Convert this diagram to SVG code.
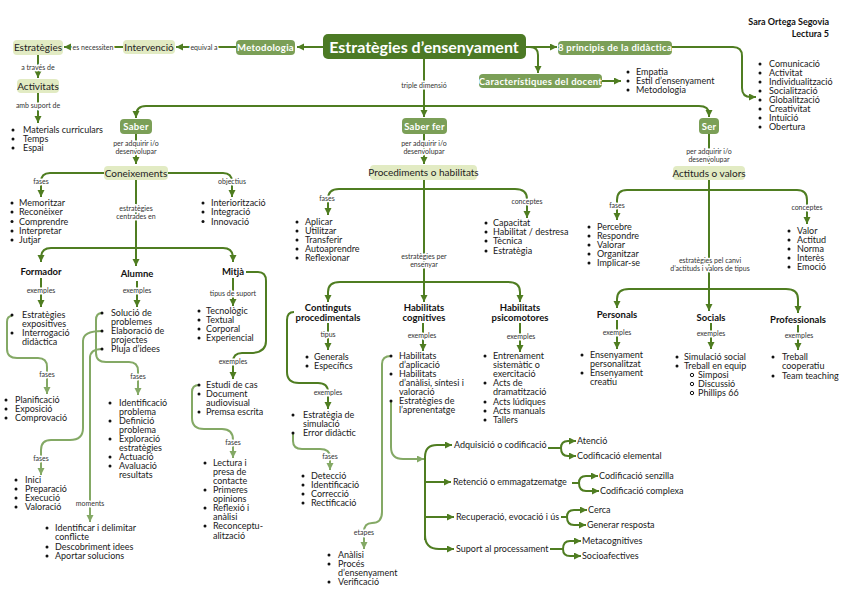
<svg xmlns="http://www.w3.org/2000/svg" width="848" height="600" viewBox="0 0 848 600">
<style>
text{font-family:Lato,"Liberation Sans",sans-serif;}
.l{font-size:9px;fill:#1a1a1a;}
.lb{font-size:7px;fill:#333;text-anchor:middle;stroke:#fff;stroke-width:3px;paint-order:stroke;stroke-linejoin:round;}
.h{font-size:9.5px;font-weight:bold;fill:#111;text-anchor:middle;}
.n{font-size:10px;fill:#222;text-anchor:middle;}
.m{font-size:9.5px;font-weight:bold;fill:#fff;text-anchor:middle;letter-spacing:0.3px;}
.c{fill:none;stroke:#4f7d21;stroke-width:2;}
.c2{fill:none;stroke:#84a965;stroke-width:2;}
.a{marker-end:url(#ad);}
.a2{marker-end:url(#al);}
.rl{fill:#e2ebc3;}
.rm{fill:#7b9f57;}
.b{fill:#111;}
.o{fill:none;stroke:#111;stroke-width:1;}
.t{font-size:9px;font-weight:bold;fill:#111;text-anchor:end;}
</style>
<defs>
<marker id="ad" markerUnits="userSpaceOnUse" markerWidth="8" markerHeight="8" refX="7" refY="3.5" orient="auto"><path d="M0,0 L7,3.5 L0,7 z" fill="#4f7d21"/></marker>
<marker id="al" markerUnits="userSpaceOnUse" markerWidth="8" markerHeight="8" refX="7" refY="3.5" orient="auto"><path d="M0,0 L7,3.5 L0,7 z" fill="#84a965"/></marker>
</defs>
<rect width="848" height="600" fill="#fff"/>

<g id="author">
<text class="t" x="829" y="25">Sara Ortega Segovia</text>
<text class="t" x="829" y="37">Lectura 5</text>
</g>

<g id="connectors">
<path class="c a" d="M323,47 H297"/>
<path class="c a" d="M236,47 H176"/>
<path class="c a" d="M123,47 H64"/>
<path class="c a" d="M38,55 V78"/>
<path class="c a" d="M38,93 V123"/>
<path class="c" d="M424,59 V106"/>
<path class="c a" d="M424,100 V117"/>
<path class="c a" d="M424,106 H146 Q136,106 136,116 V118"/>
<path class="c a" d="M424,106 H699 Q709,106 709,114 V117"/>
<path class="c a" d="M526,47 H557"/>
<path class="c a" d="M526,47 H530 Q538,47 538,55 V73"/>
<path class="c a" d="M602,81 H621"/>
<path class="c a" d="M672,47 H733 Q742,47 742,56 V88 Q742,97 751,97 H756"/>
<path class="c a" d="M136,134 V164"/>
<path class="c a" d="M104,173 H50 Q41,173 41,182 V197"/>
<path class="c a" d="M168,173 H223 Q232,173 232,182 V197"/>
<path class="c a" d="M136,180 V266"/>
<path class="c a" d="M136,248 H51 Q41,248 41,258 V262"/>
<path class="c a" d="M136,248 H223 Q233,248 233,258 V262"/>
<path class="c a" d="M41,278 V307"/>
<path class="c a" d="M137,281 V307"/>
<path class="c a" d="M233,278 V306"/>
<path class="c a" d="M246,272 H258 Q266,272 266,281 V341 Q266,353 250,353 H242 Q233,353 233,362 V379"/>
<path class="c2 a2" d="M12,316 Q7,316 7,322 V349 Q7,358 17,358 H38 Q47,358 47,367 V394"/>
<path class="c2 a2" d="M102,313 Q96,313 96,320 V353 Q96,362 106,362 H129 Q138,362 138,371 V395"/>
<path class="c2 a2" d="M102,331 Q83,331 83,341 V428 Q83,440 70,440 H51 Q41,440 41,450 V475"/>
<path class="c2 a2" d="M102,349 Q90,349 90,358 V522"/>
<path class="c2 a2" d="M199,385 Q192,385 192,392 V418 Q192,429 204,429 H222 Q233,429 233,440 V458"/>
<path class="c a" d="M424,134 V164"/>
<path class="c a" d="M424,180 V302"/>
<path class="c a" d="M424,189 H339 Q328,189 328,199 V215"/>
<path class="c a" d="M424,189 H515 Q527,189 527,199 V218"/>
<path class="c a" d="M424,282 H340 Q328,282 328,292 V302"/>
<path class="c a" d="M424,282 H508 Q520,282 520,292 V302"/>
<path class="c a" d="M328,323 V350"/>
<path class="c a" d="M294,312 Q287,312 287,320 V372 Q287,383 299,383 H318 Q328,383 328,392 V409"/>
<path class="c2 a2" d="M293,433 V441 Q293,449 302,449 H320 Q330,449 330,457 V470"/>
<path class="c a" d="M423,323 V351"/>
<path class="c a" d="M520,323 V352"/>
<path class="c2 a2" d="M391,356 Q382,356 382,364 V512 Q382,523 372,523 Q364,523 364,532 V549"/>
<path class="c2 a2" d="M391,401 V447 Q391,459 403,459 H424"/>
<path class="c a" d="M425,540 V457 Q425,445 437,445 H452"/>
<path class="c a" d="M425,535 Q425,549 439,549 H454"/>
<path class="c a" d="M425,482 H451"/>
<path class="c a" d="M425,517 H454"/>
<path class="c" d="M548,448 H561"/>
<path class="c a" d="M561,448 Q561,441 568,441 H576"/>
<path class="c a" d="M561,448 Q561,456 568,456 H576"/>
<path class="c" d="M572,483 H579"/>
<path class="c a" d="M579,483 Q579,476 586,476 H598"/>
<path class="c a" d="M579,483 Q579,491 586,491 H599"/>
<path class="c" d="M561,517 H567"/>
<path class="c a" d="M567,517 Q567,510 574,510 H587"/>
<path class="c a" d="M567,517 Q567,525 574,525 H586"/>
<path class="c" d="M550,549 H563"/>
<path class="c a" d="M563,549 Q563,541 570,541 H581"/>
<path class="c a" d="M563,549 Q563,556 570,556 H581"/>
<path class="c a" d="M709,134 V164"/>
<path class="c a" d="M709,180 V311"/>
<path class="c a" d="M709,190 H627 Q617,190 617,200 V220"/>
<path class="c a" d="M709,190 H797 Q807,190 807,200 V224"/>
<path class="c a" d="M709,289 H629 Q617,289 617,299 V308"/>
<path class="c a" d="M709,289 H786 Q798,289 798,299 V313"/>
<path class="c a" d="M617,320 V349"/>
<path class="c a" d="M711,323 V349"/>
<path class="c a" d="M798,325 V350"/>
<text class="lb" x="204" y="49.5">equival a</text>
<text class="lb" x="93" y="49.5">es necessiten</text>
<text class="lb" x="38" y="69.5">a través de</text>
<text class="lb" x="38" y="107.5">amb suport de</text>
<text class="lb" x="424" y="87.5">triple dimensió</text>
<text class="lb" x="136" y="146">per adquirir i/o</text>
<text class="lb" x="136" y="153.5">desenvolupar</text>
<text class="lb" x="41" y="184">fases</text>
<text class="lb" x="232" y="184">objectius</text>
<text class="lb" x="136" y="211">estratègies</text>
<text class="lb" x="136" y="219">centrades en</text>
<text class="lb" x="41" y="293">exemples</text>
<text class="lb" x="137" y="293">exemples</text>
<text class="lb" x="233" y="295.5">tipus de suport</text>
<text class="lb" x="233" y="364">exemples</text>
<text class="lb" x="47" y="377">fases</text>
<text class="lb" x="138" y="379">fases</text>
<text class="lb" x="41" y="461">fases</text>
<text class="lb" x="90" y="506">moments</text>
<text class="lb" x="233" y="445">fases</text>
<text class="lb" x="424" y="146">per adquirir i/o</text>
<text class="lb" x="424" y="153.5">desenvolupar</text>
<text class="lb" x="327" y="201">fases</text>
<text class="lb" x="527" y="204">conceptes</text>
<text class="lb" x="424" y="259">estratègies per</text>
<text class="lb" x="424" y="267">ensenyar</text>
<text class="lb" x="328" y="337">tipus</text>
<text class="lb" x="328" y="395">exemples</text>
<text class="lb" x="330" y="459">fases</text>
<text class="lb" x="422" y="338">exemples</text>
<text class="lb" x="521" y="339">exemples</text>
<text class="lb" x="364" y="535">etapes</text>
<text class="lb" x="709" y="154">per adquirir i/o</text>
<text class="lb" x="709" y="161.5">desenvolupar</text>
<text class="lb" x="710" y="263">estratègies pel canvi</text>
<text class="lb" x="710" y="270.5">d’actituds i valors de tipus</text>
<text class="lb" x="617" y="208">fases</text>
<text class="lb" x="807" y="210">conceptes</text>
<text class="lb" x="617" y="335">exemples</text>
<text class="lb" x="711" y="336">exemples</text>
<text class="lb" x="799" y="338">exemples</text>
</g>

<g id="central">
<rect x="323" y="34" width="203" height="25" rx="5" fill="#4c7a25"/>
<text x="424" y="52.5" font-size="16" font-weight="bold" fill="#fff" text-anchor="middle">Estratègies d’ensenyament</text>
</g>
<g id="metodologia">
<rect class="rm" x="236" y="40" width="59" height="15" rx="4"/>
<text class="m" x="265.5" y="51">Metodologia</text>
</g>
<g id="intervencio">
<rect class="rl" x="123" y="40" width="52" height="14" rx="4"/>
<text class="n" x="149" y="50.5">Intervenció</text>
</g>
<g id="estrategies">
<rect class="rl" x="13" y="40" width="50" height="15" rx="4"/>
<text class="n" x="38" y="51">Estratègies</text>
</g>
<g id="activitats">
<rect class="rl" x="17" y="79" width="42" height="14" rx="4"/>
<text class="n" x="38" y="89.5">Activitats</text>
<circle class="b" cx="13" cy="130" r="1.5"/><text class="l" x="23" y="133">Materials curriculars</text>
<circle class="b" cx="13" cy="139" r="1.5"/><text class="l" x="23" y="142">Temps</text>
<circle class="b" cx="13" cy="148" r="1.5"/><text class="l" x="23" y="151">Espai</text>
</g>
<g id="principis">
<rect class="rm" x="558" y="41" width="114" height="14" rx="4"/>
<text class="m" x="615" y="51">8 principis de la didàctica</text>
<circle class="b" cx="760" cy="64" r="1.5"/><text class="l" x="769" y="67">Comunicació</text>
<circle class="b" cx="760" cy="73" r="1.5"/><text class="l" x="769" y="76">Activitat</text>
<circle class="b" cx="760" cy="82" r="1.5"/><text class="l" x="769" y="85">Individualització</text>
<circle class="b" cx="760" cy="91" r="1.5"/><text class="l" x="769" y="94">Socialització</text>
<circle class="b" cx="760" cy="100" r="1.5"/><text class="l" x="769" y="103">Globalització</text>
<circle class="b" cx="760" cy="109" r="1.5"/><text class="l" x="769" y="112">Creativitat</text>
<circle class="b" cx="760" cy="118" r="1.5"/><text class="l" x="769" y="121">Intuïció</text>
<circle class="b" cx="760" cy="127" r="1.5"/><text class="l" x="769" y="130">Obertura</text>
</g>
<g id="caracteristiques">
<rect class="rm" x="479" y="74" width="123" height="14" rx="4"/>
<text class="m" x="540.5" y="84.5">Característiques del docent</text>
<circle class="b" cx="628" cy="72" r="1.5"/><text class="l" x="636" y="75">Empatia</text>
<circle class="b" cx="628" cy="81" r="1.5"/><text class="l" x="636" y="84">Estil d’ensenyament</text>
<circle class="b" cx="628" cy="90" r="1.5"/><text class="l" x="636" y="93">Metodologia</text>
</g>

<g id="saber">
<rect class="rm" x="120" y="119" width="32" height="15" rx="4"/>
<text class="m" x="136" y="130">Saber</text>
</g>
<g id="coneixements">
<rect class="rl" x="104" y="166" width="64" height="14" rx="4"/>
<text class="n" x="136" y="176.5">Coneixements</text>
<circle class="b" cx="12" cy="203" r="1.5"/><text class="l" x="19" y="206">Memoritzar</text>
<circle class="b" cx="12" cy="212" r="1.5"/><text class="l" x="19" y="215">Reconèixer</text>
<circle class="b" cx="12" cy="221.5" r="1.5"/><text class="l" x="19" y="224.5">Comprendre</text>
<circle class="b" cx="12" cy="231" r="1.5"/><text class="l" x="19" y="234">Interpretar</text>
<circle class="b" cx="12" cy="240" r="1.5"/><text class="l" x="19" y="243">Jutjar</text>
<circle class="b" cx="203" cy="203" r="1.5"/><text class="l" x="211" y="206">Interiorització</text>
<circle class="b" cx="203" cy="212" r="1.5"/><text class="l" x="211" y="215">Integració</text>
<circle class="b" cx="203" cy="221.5" r="1.5"/><text class="l" x="211" y="224.5">Innovació</text>
</g>
<g id="formador">
<text class="h" x="41" y="274.5">Formador</text>
<circle class="b" cx="12" cy="315" r="1.5"/><text class="l" x="22" y="318">Estratègies</text>
<text class="l" x="22" y="327">expositives</text>
<circle class="b" cx="12" cy="333" r="1.5"/><text class="l" x="22" y="336">Interrogació</text>
<text class="l" x="22" y="345">didàctica</text>
<circle class="b" cx="6" cy="400" r="1.5"/><text class="l" x="15" y="403">Planificació</text>
<circle class="b" cx="6" cy="409" r="1.5"/><text class="l" x="15" y="412">Exposició</text>
<circle class="b" cx="6" cy="418" r="1.5"/><text class="l" x="15" y="421">Comprovació</text>
</g>
<g id="alumne">
<text class="h" x="137" y="276.5">Alumne</text>
<circle class="b" cx="102" cy="313" r="1.5"/><text class="l" x="111" y="316">Solució de</text>
<text class="l" x="111" y="325">problemes</text>
<circle class="b" cx="102" cy="331" r="1.5"/><text class="l" x="111" y="334">Elaboració de</text>
<text class="l" x="111" y="343">projectes</text>
<circle class="b" cx="102" cy="349" r="1.5"/><text class="l" x="111" y="352">Pluja d’idees</text>
<circle class="b" cx="110" cy="403" r="1.5"/><text class="l" x="119" y="406">Identificació</text>
<text class="l" x="119" y="415">problema</text>
<circle class="b" cx="110" cy="421" r="1.5"/><text class="l" x="119" y="424">Definició</text>
<text class="l" x="119" y="433">problema</text>
<circle class="b" cx="110" cy="439" r="1.5"/><text class="l" x="119" y="442">Exploració</text>
<text class="l" x="119" y="451">estratègies</text>
<circle class="b" cx="110" cy="457" r="1.5"/><text class="l" x="119" y="460">Actuació</text>
<circle class="b" cx="110" cy="466" r="1.5"/><text class="l" x="119" y="469">Avaluació</text>
<text class="l" x="119" y="478">resultats</text>
<circle class="b" cx="16" cy="480" r="1.5"/><text class="l" x="25" y="483">Inici</text>
<circle class="b" cx="16" cy="489" r="1.5"/><text class="l" x="25" y="492">Preparació</text>
<circle class="b" cx="16" cy="498" r="1.5"/><text class="l" x="25" y="501">Execució</text>
<circle class="b" cx="16" cy="507" r="1.5"/><text class="l" x="25" y="510">Valoració</text>
<circle class="b" cx="47" cy="528" r="1.5"/><text class="l" x="55" y="531">Identificar i delimitar</text>
<text class="l" x="55" y="540">conflicte</text>
<circle class="b" cx="47" cy="547" r="1.5"/><text class="l" x="55" y="550">Descobriment idees</text>
<circle class="b" cx="47" cy="556" r="1.5"/><text class="l" x="55" y="559">Aportar solucions</text>
</g>
<g id="mitja">
<text class="h" x="233" y="274.5">Mitjà</text>
<circle class="b" cx="199" cy="311" r="1.5"/><text class="l" x="206" y="314">Tecnològic</text>
<circle class="b" cx="199" cy="320" r="1.5"/><text class="l" x="206" y="323">Textual</text>
<circle class="b" cx="199" cy="329" r="1.5"/><text class="l" x="206" y="332">Corporal</text>
<circle class="b" cx="199" cy="338" r="1.5"/><text class="l" x="206" y="341">Experiencial</text>
<circle class="b" cx="199" cy="385" r="1.5"/><text class="l" x="206" y="388">Estudi de cas</text>
<circle class="b" cx="199" cy="394" r="1.5"/><text class="l" x="206" y="397">Document</text>
<text class="l" x="206" y="406">audiovisual</text>
<circle class="b" cx="199" cy="412" r="1.5"/><text class="l" x="206" y="415">Premsa escrita</text>
<circle class="b" cx="205" cy="463" r="1.5"/><text class="l" x="213" y="466">Lectura i</text>
<text class="l" x="213" y="475">presa de</text>
<text class="l" x="213" y="484">contacte</text>
<circle class="b" cx="205" cy="490" r="1.5"/><text class="l" x="213" y="493">Primeres</text>
<text class="l" x="213" y="502">opinions</text>
<circle class="b" cx="205" cy="508" r="1.5"/><text class="l" x="213" y="511">Reflexió i</text>
<text class="l" x="213" y="520">anàlisi</text>
<circle class="b" cx="205" cy="526" r="1.5"/><text class="l" x="213" y="529">Reconceptu-</text>
<text class="l" x="213" y="539">alització</text>
</g>

<g id="saber-fer">
<rect class="rm" x="402" y="118" width="45" height="16" rx="4"/>
<text class="m" x="424.5" y="129.5">Saber fer</text>
</g>
<g id="procediments">
<rect class="rl" x="370" y="165" width="107" height="15" rx="4"/>
<text class="n" x="423.5" y="176">Procediments o habilitats</text>
<circle class="b" cx="297" cy="222" r="1.5"/><text class="l" x="305" y="225">Aplicar</text>
<circle class="b" cx="297" cy="231" r="1.5"/><text class="l" x="305" y="234">Utilitzar</text>
<circle class="b" cx="297" cy="240" r="1.5"/><text class="l" x="305" y="243">Transferir</text>
<circle class="b" cx="297" cy="249" r="1.5"/><text class="l" x="305" y="252">Autoaprendre</text>
<circle class="b" cx="297" cy="258" r="1.5"/><text class="l" x="305" y="261">Reflexionar</text>
<circle class="b" cx="486" cy="223" r="1.5"/><text class="l" x="493" y="226">Capacitat</text>
<circle class="b" cx="486" cy="232" r="1.5"/><text class="l" x="493" y="235">Habilitat / destresa</text>
<circle class="b" cx="486" cy="241" r="1.5"/><text class="l" x="493" y="244">Tècnica</text>
<circle class="b" cx="486" cy="251" r="1.5"/><text class="l" x="493" y="254">Estratègia</text>
</g>
<g id="continguts">
<text class="h" x="328" y="311">Continguts</text>
<text class="h" x="328" y="320.5">procedimentals</text>
<circle class="b" cx="307" cy="357" r="1.5"/><text class="l" x="314" y="360">Generals</text>
<circle class="b" cx="307" cy="366" r="1.5"/><text class="l" x="314" y="369">Específics</text>
<circle class="b" cx="293" cy="415" r="1.5"/><text class="l" x="303" y="418">Estratègia de</text>
<text class="l" x="303" y="427">simulació</text>
<circle class="b" cx="293" cy="433" r="1.5"/><text class="l" x="303" y="436">Error didàctic</text>
<circle class="b" cx="303" cy="476" r="1.5"/><text class="l" x="311" y="479">Detecció</text>
<circle class="b" cx="303" cy="485" r="1.5"/><text class="l" x="311" y="488">Identificació</text>
<circle class="b" cx="303" cy="494" r="1.5"/><text class="l" x="311" y="497">Correcció</text>
<circle class="b" cx="303" cy="503" r="1.5"/><text class="l" x="311" y="506">Rectificació</text>
</g>
<g id="cognitives">
<text class="h" x="424" y="311">Habilitats</text>
<text class="h" x="424" y="320.5">cognitives</text>
<circle class="b" cx="391" cy="356" r="1.5"/><text class="l" x="399" y="359">Habilitats</text>
<text class="l" x="399" y="368">d’aplicació</text>
<circle class="b" cx="391" cy="374" r="1.5"/><text class="l" x="399" y="377">Habilitats</text>
<text class="l" x="399" y="386">d’anàlisi, síntesi i</text>
<text class="l" x="399" y="395">valoració</text>
<circle class="b" cx="391" cy="401" r="1.5"/><text class="l" x="399" y="404">Estratègies de</text>
<text class="l" x="399" y="413">l’aprenentatge</text>
<circle class="b" cx="329" cy="555" r="1.5"/><text class="l" x="338" y="558">Anàlisi</text>
<circle class="b" cx="329" cy="564" r="1.5"/><text class="l" x="338" y="567">Procés</text>
<text class="l" x="338" y="576">d’ensenyament</text>
<circle class="b" cx="329" cy="582" r="1.5"/><text class="l" x="338" y="585">Verificació</text>
</g>
<g id="processos">
<text class="l" x="454" y="448">Adquisició o codificació</text>
<text class="l" x="453" y="485">Retenció o emmagatzematge</text>
<text class="l" x="456" y="520">Recuperació, evocació i ús</text>
<text class="l" x="456" y="552">Suport al processament</text>
<text class="l" x="577" y="444">Atenció</text>
<text class="l" x="577" y="459">Codificació elemental</text>
<text class="l" x="599" y="479">Codificació senzilla</text>
<text class="l" x="600" y="494">Codificació complexa</text>
<text class="l" x="588" y="513">Cerca</text>
<text class="l" x="587" y="528">Generar resposta</text>
<text class="l" x="582" y="544">Metacognitives</text>
<text class="l" x="582" y="559">Socioafectives</text>
</g>
<g id="psicomotores">
<text class="h" x="520" y="311">Habilitats</text>
<text class="h" x="520" y="320.5">psicomotores</text>
<circle class="b" cx="485" cy="356" r="1.5"/><text class="l" x="493" y="359">Entrenament</text>
<text class="l" x="493" y="368">sistemàtic o</text>
<text class="l" x="493" y="377">exercitació</text>
<circle class="b" cx="485" cy="383" r="1.5"/><text class="l" x="493" y="386">Acts de</text>
<text class="l" x="493" y="395">dramatització</text>
<circle class="b" cx="485" cy="402" r="1.5"/><text class="l" x="493" y="405">Acts lúdiques</text>
<circle class="b" cx="485" cy="411" r="1.5"/><text class="l" x="493" y="414">Acts manuals</text>
<circle class="b" cx="485" cy="420" r="1.5"/><text class="l" x="493" y="423">Tallers</text>
</g>

<g id="ser">
<rect class="rm" x="699" y="118" width="20" height="16" rx="4"/>
<text class="m" x="709" y="129.5">Ser</text>
</g>
<g id="actituds">
<rect class="rl" x="673" y="166" width="72" height="14" rx="4"/>
<text class="n" x="709" y="176.5">Actituds o valors</text>
<circle class="b" cx="589" cy="227" r="1.5"/><text class="l" x="597" y="230">Percebre</text>
<circle class="b" cx="589" cy="236" r="1.5"/><text class="l" x="597" y="239">Respondre</text>
<circle class="b" cx="589" cy="245" r="1.5"/><text class="l" x="597" y="248">Valorar</text>
<circle class="b" cx="589" cy="254" r="1.5"/><text class="l" x="597" y="257">Organitzar</text>
<circle class="b" cx="589" cy="263" r="1.5"/><text class="l" x="597" y="266">Implicar-se</text>
<circle class="b" cx="789" cy="231" r="1.5"/><text class="l" x="797" y="234">Valor</text>
<circle class="b" cx="789" cy="240" r="1.5"/><text class="l" x="797" y="243">Actitud</text>
<circle class="b" cx="789" cy="249" r="1.5"/><text class="l" x="797" y="252">Norma</text>
<circle class="b" cx="789" cy="258" r="1.5"/><text class="l" x="797" y="261">Interès</text>
<circle class="b" cx="789" cy="267" r="1.5"/><text class="l" x="797" y="270">Emoció</text>
</g>
<g id="personals">
<text class="h" x="617" y="318">Personals</text>
<circle class="b" cx="582" cy="355" r="1.5"/><text class="l" x="590" y="358">Ensenyament</text>
<text class="l" x="590" y="367">personalitzat</text>
<circle class="b" cx="582" cy="373" r="1.5"/><text class="l" x="590" y="376">Ensenyament</text>
<text class="l" x="590" y="385">creatiu</text>
</g>
<g id="socials">
<text class="h" x="711" y="321">Socials</text>
<circle class="b" cx="677" cy="357" r="1.5"/><text class="l" x="684" y="360">Simulació social</text>
<circle class="b" cx="677" cy="366" r="1.5"/><text class="l" x="684" y="369">Treball en equip</text>
<circle class="o" cx="692" cy="375" r="1.7"/><text class="l" x="698" y="378">Simposi</text>
<circle class="o" cx="692" cy="384" r="1.7"/><text class="l" x="698" y="387">Discussió</text>
<circle class="o" cx="692" cy="393" r="1.7"/><text class="l" x="698" y="396">Phillips 66</text>
</g>
<g id="professionals">
<text class="h" x="798" y="323">Professionals</text>
<circle class="b" cx="773" cy="357" r="1.5"/><text class="l" x="782" y="360">Treball</text>
<text class="l" x="782" y="369">cooperatiu</text>
<circle class="b" cx="773" cy="376" r="1.5"/><text class="l" x="782" y="379">Team teaching</text>
</g>
</svg>
